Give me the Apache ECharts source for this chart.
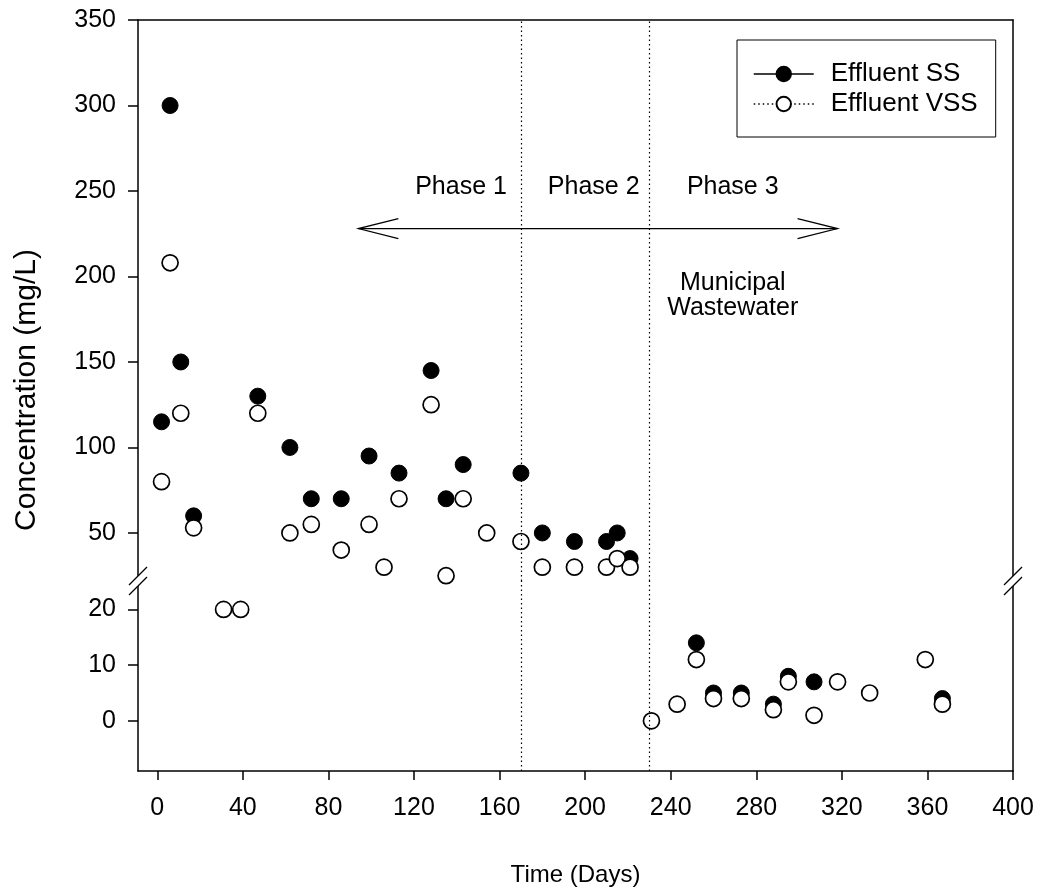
<!DOCTYPE html>
<html>
<head>
<meta charset="utf-8">
<title>Effluent SS and VSS</title>
<script src="https://cdn.jsdelivr.net/npm/echarts@6/dist/echarts.min.js"></script>
<style>
  html, body { margin: 0; padding: 0; background: #fff; }
  #chart { width: 1044px; height: 895px; }
</style>
</head>
<body>
<div id="chart"></div>
<script>
// values (day, mg/L)
const ssDays   = [2, 6, 11, 17, 47, 62, 72, 86, 99, 113, 128, 135, 143, 170, 180, 195, 210, 215, 221, 252, 260, 273, 288, 295, 307, 367];
const ssValues = [115, 300, 150, 60, 130, 100, 70, 70, 95, 85, 145, 70, 90, 85, 50, 45, 45, 50, 35, 14, 5, 5, 3, 8, 7, 4];

const vssDays   = [2, 6, 11, 17, 31, 39, 47, 62, 72, 86, 99, 106, 113, 128, 135, 143, 154, 170, 180, 195, 210, 215, 221, 231, 243, 252, 260, 273, 288, 295, 307, 318, 333, 359, 367];
const vssValues = [80, 208, 120, 53, 20, 20, 120, 50, 55, 40, 55, 30, 70, 125, 25, 70, 50, 45, 30, 30, 30, 35, 30, 0, 3, 11, 4, 4, 2, 7, 1, 7, 5, 11, 3];

const xTicks     = [0, 40, 80, 120, 160, 200, 240, 280, 320, 360, 400];
const upperTicks = [50, 100, 150, 200, 250, 300, 350];
const lowerTicks = [0, 10, 20];

// annotations
const phaseBounds     = [170, 230];
const phaseLabels     = ['Phase 1', 'Phase 2', 'Phase 3'];
const phaseLabelDays  = [142, 204, 269];
const phaseLabelLevel = 252;
const arrowDays  = [94, 318];
const arrowLevel = 228;
const noteText = 'Municipal\nWastewater';
const noteAt   = [269, 189];

const BREAK = 23; // below this the point goes to the lower panel
const FONT = "'Liberation Sans', Arial, sans-serif";

const chart = echarts.init(document.getElementById('chart'));

function pts(days, vals, upper) {
  return days.map((d, i) => [d, vals[i]])
    .filter(p => upper ? p[1] >= BREAK : p[1] < BREAK);
}

const axisLine = {show: true, onZero: false, lineStyle: {color: '#000', width: 1.5}};
const labelStyle = {color: '#000', fontSize: 25, fontFamily: FONT};

function yAxis(grid, min, max, ticks, pos) {
  const main = pos === 'left';
  return {
    type: 'value', gridIndex: grid, position: pos, min: min, max: max,
    axisLine: axisLine,
    axisTick: {show: main, inside: false, length: 10, lineStyle: {color: '#000', width: 1.5}, customValues: ticks},
    axisLabel: {show: main, margin: 22, customValues: ticks, ...labelStyle},
    splitLine: {show: false}
  };
}

const phaseLine = {
  silent: true, symbol: ['none', 'none'], label: {show: false},
  lineStyle: {type: [1.5, 3], color: '#000', width: 1.2},
  data: phaseBounds.map(d => ({xAxis: d}))
};

function series(name, data, grid, filled) {
  return {
    name: name, type: 'line', data: data,
    xAxisIndex: grid, yAxisIndex: grid * 2,
    symbol: 'circle', symbolSize: 16, showAllSymbol: true,
    lineStyle: {opacity: 0},
    itemStyle: filled
      ? {color: '#000', borderColor: '#000', borderWidth: 1}
      : {color: '#fff', borderColor: '#000', borderWidth: 1.7},
    emphasis: {disabled: true}, silent: true, clip: false, animation: false,
    z: filled ? 3 : 4,
    markLine: filled ? phaseLine : undefined
  };
}

chart.setOption({
  animation: false,
  grid: [
    {left: 138, right: 31, top: 20, height: 561},
    {left: 138, right: 31, top: 581, height: 190}
  ],
  xAxis: [
    {type: 'value', gridIndex: 0, position: 'top', min: -9, max: 400,
     axisLine: axisLine, axisTick: {show: false}, axisLabel: {show: false}, splitLine: {show: false}},
    {type: 'value', gridIndex: 1, position: 'bottom', min: -9, max: 400,
     axisLine: axisLine,
     axisTick: {show: true, length: 9, lineStyle: {color: '#000', width: 1.5}, customValues: xTicks},
     axisLabel: {margin: 25, customValues: xTicks, ...labelStyle},
     splitLine: {show: false},
     name: 'Time (Days)', nameLocation: 'middle', nameGap: 92,
     nameTextStyle: {color: '#000', fontSize: 24, fontFamily: FONT}}
  ],
  yAxis: [
    yAxis(0, 21.9, 350, upperTicks, 'left'),
    yAxis(0, 21.9, 350, upperTicks, 'right'),
    yAxis(1, -9, 25.1, lowerTicks, 'left'),
    yAxis(1, -9, 25.1, lowerTicks, 'right')
  ],
  legend: {
    orient: 'vertical', left: 737, top: 40,
    padding: [21, 18, 20, 16], itemGap: 4,
    itemWidth: 60, itemHeight: 18,
    borderColor: '#000', borderWidth: 1, borderRadius: 0,
    selectedMode: false,
    textStyle: {color: '#000', fontSize: 26, fontFamily: FONT, padding: [0, 0, 0, 12]},
    data: [
      {name: 'Effluent SS', lineStyle: {opacity: 1, width: 1.5, color: '#000', type: 'solid'}},
      {name: 'Effluent VSS', lineStyle: {opacity: 1, width: 1.3, color: '#000', type: [1.5, 3]}}
    ]
  },
  series: [
    series('Effluent SS', pts(ssDays, ssValues, true), 0, true),
    series('Effluent VSS', pts(vssDays, vssValues, true), 0, false),
    series('Effluent SS', pts(ssDays, ssValues, false), 1, true),
    series('Effluent VSS', pts(vssDays, vssValues, false), 1, false)
  ]
});

// annotations placed through the grid's own scales
const px = (g, d) => chart.convertToPixel({gridIndex: g}, d);
const a0 = px(0, [arrowDays[0], arrowLevel]);
const a1 = px(0, [arrowDays[1], arrowLevel]);
const ink = {stroke: '#000', lineWidth: 1.2, fill: null};
const textStyle = (t, size) => ({
  text: t, fill: '#000', font: size + 'px ' + FONT,
  textAlign: 'center', textVerticalAlign: 'middle', align: 'center', verticalAlign: 'middle'
});

const graphics = [
  {type: 'line', shape: {x1: a0[0], y1: a0[1], x2: a1[0], y2: a1[1]}, style: ink},
  {type: 'polyline', shape: {points: [[a0[0] + 40, a0[1] - 10], a0, [a0[0] + 40, a0[1] + 10]]}, style: ink},
  {type: 'polyline', shape: {points: [[a1[0] - 40, a1[1] - 10], a1, [a1[0] - 40, a1[1] + 10]]}, style: ink}
];
phaseLabels.forEach((t, i) => {
  const p = px(0, [phaseLabelDays[i], phaseLabelLevel]);
  graphics.push({type: 'text', x: p[0], y: p[1], style: textStyle(t, 25)});
});
const np = px(0, noteAt);
graphics.push({type: 'text', x: np[0], y: np[1], style: {...textStyle(noteText, 25), lineHeight: 25}});
graphics.push({type: 'text', x: 27, y: 390, rotation: Math.PI / 2, style: textStyle('Concentration (mg/L)', 30)});

// axis break marks on both sides
[[-9, 25.1], [400, 25.1]].forEach(d => {
  const b = px(1, d);
  const c1 = b[1] - 5, c2 = b[1] + 5;
  graphics.push({type: 'polygon', shape: {points: [[b[0] - 9, c1 + 9], [b[0] + 9, c1 - 9], [b[0] + 9, c2 - 9], [b[0] - 9, c2 + 9]]},
    style: {fill: '#fff', stroke: null}, z: 10});
  graphics.push({type: 'line', shape: {x1: b[0] - 9, y1: c1 + 9, x2: b[0] + 9, y2: c1 - 9}, style: {stroke: '#000', lineWidth: 1.3}, z: 11});
  graphics.push({type: 'line', shape: {x1: b[0] - 9, y1: c2 + 9, x2: b[0] + 9, y2: c2 - 9}, style: {stroke: '#000', lineWidth: 1.3}, z: 11});
});

chart.setOption({graphic: graphics});
</script>
</body>
</html>
